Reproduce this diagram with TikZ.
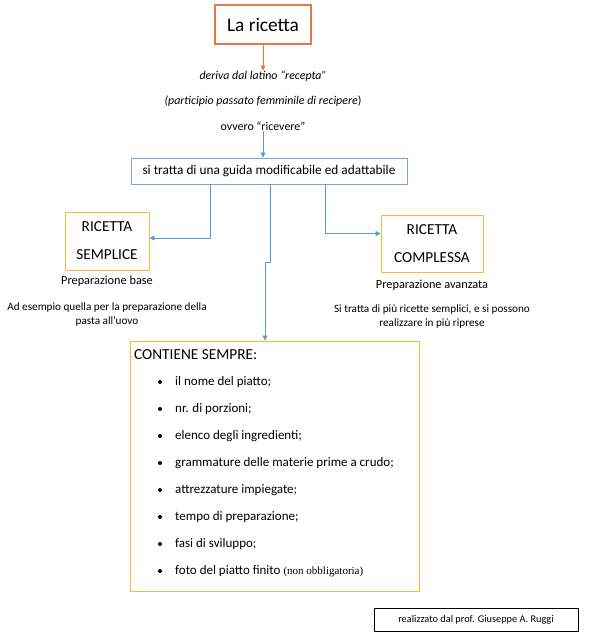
\documentclass[tikz,border=0pt]{standalone}
\usepackage{fontspec}
\setmainfont{Carlito}
\newfontfamily\serifsmall{Liberation Serif}
\usetikzlibrary{arrows.meta,calc}
\definecolor{cOrange}{RGB}{232,118,70}
\definecolor{cGold}{RGB}{247,186,56}
\definecolor{cBlue}{RGB}{91,155,213}
\definecolor{cBlueBox}{RGB}{120,165,220}
\begin{document}
\begin{tikzpicture}[x=1pt,y=-1pt,
  box/.style={draw,line width=0.95pt,inner sep=0pt,align=center},
  txt/.style={inner sep=0pt,font=\fontsize{12.3}{14}\selectfont},
  itemtxt/.style={inner sep=0pt,anchor=west,font=\fontsize{13}{15}\selectfont},
  bul/.style={circle,fill=black,inner sep=0pt,minimum size=4pt},
  bluearrow/.style={cBlue,line width=0.9pt,-{Triangle[length=5pt,width=5pt]}},
  orangearrow/.style={cOrange,line width=0.9pt,-{Triangle[length=5pt,width=5pt]}}
]
\useasboundingbox[fill=white] (0,0) rectangle (589,640);

\node[box,draw=cOrange,line width=1.1pt,minimum width=96pt,minimum height=39pt,font=\fontsize{19.3}{22}\selectfont] (ricetta) at (263,24.5) {La ricetta};

\node[txt,font=\fontsize{11.9}{14}\selectfont\itshape] (deriva) at (263,76) {deriva dal latino “recepta”};
\node[txt,font=\fontsize{11.9}{14}\selectfont] (particip) at (263,101) {\itshape(participio passato femminile di recipere\/\upshape)};
\node[txt,font=\fontsize{11.9}{14}\selectfont] (ovvero) at (263,126) {ovvero “ricevere”};

\node[box,draw=cBlueBox,minimum width=276pt,minimum height=26pt,font=\fontsize{13.3}{15}\selectfont] (guida) at (269,171) {si tratta di una guida modificabile ed adattabile};

\node[box,draw=cGold,minimum width=84pt,minimum height=58pt,font=\fontsize{15.3}{28}\selectfont] (semplice) at (107,241) {RICETTA\\SEMPLICE};
\node[txt] (base) at (107,281) {Preparazione base};
\node[txt,align=center,font=\fontsize{11.2}{14}\selectfont] (esempio) at (107,315) {Ad esempio quella per la preparazione della\\pasta all’uovo};

\node[box,draw=cGold,minimum width=102pt,minimum height=57pt,font=\fontsize{15.3}{28}\selectfont] (complessa) at (432,243.5) {RICETTA\\COMPLESSA};
\node[txt] (avanzata) at (432,285) {Preparazione avanzata};
\node[txt,align=center,font=\fontsize{11.2}{14}\selectfont] (sitratta) at (432,317) {Si tratta di più ricette semplici, e si possono\\realizzare in più riprese};

\node[box,draw=cGold,minimum width=289pt,minimum height=250pt] (contiene) at (274.5,466) {};
\node[itemtxt,font=\fontsize{15.3}{17}\selectfont] (titolo) at (134,355) {CONTIENE SEMPRE:};
\foreach \i/\t in {0/{il nome del piatto;},1/{nr. di porzioni;},2/{elenco degli ingredienti;},3/{grammature delle materie prime a crudo;},4/{attrezzature impiegate;},5/{tempo di preparazione;},6/{fasi di sviluppo;},7/{foto del piatto finito {\serifsmall\fontsize{11}{12}\selectfont(non obbligatoria)}}}{
  \node[bul] (b\i) at (160,382+27*\i) {};
  \node[itemtxt] (it\i) at (175,382+27*\i) {\t};
}

\node[box,draw=black,minimum width=204pt,minimum height=23pt,font=\fontsize{10.3}{13}\selectfont] (footer) at (476,619.5) {realizzato dal prof. Giuseppe A. Ruggi};

\coordinate (lx) at (210,0);
\coordinate (mx) at (270,0);
\coordinate (mj) at (265,0);
\coordinate (rx) at (325,0);
\coordinate (jy) at (0,262);

\draw[orangearrow] (ricetta.south) -- (deriva.north);
\draw[bluearrow] (ricetta.south |- ovvero.south) -- (ricetta.south |- guida.north);
\draw[bluearrow] (guida.south -| lx) |- ([yshift=3pt]semplice.east);
\draw[bluearrow] (guida.south -| rx) |- ([yshift=10pt]complessa.west);
\draw[bluearrow] (guida.south -| mx) -- (mx |- jy) -- (mj |- jy) -- (contiene.north -| mj);
\end{tikzpicture}
\end{document}
